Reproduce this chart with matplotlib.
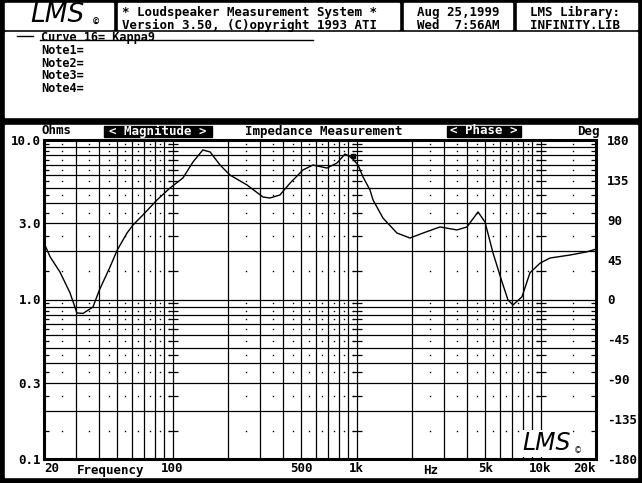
#!/bin/env python3
# coding: utf-8

import numpy as np
import matplotlib
matplotlib.use('Agg')
import matplotlib.pyplot as plt
from matplotlib.patches import Rectangle

# Impedance magnitude curve
freq = [20, 21.6, 24.4, 27.7, 30.2, 32.6, 36.9, 40, 45.7, 50, 56.5, 60.9, 69,
        82.3, 96.8, 113.8, 129, 146, 160, 181, 205, 254, 310, 338, 383, 435,
        511, 579, 690, 782, 865, 944, 1018, 1084, 1182, 1228, 1391, 1657,
        1950, 2296, 2838, 3512, 3980, 4570, 4986, 5510, 6168, 6650, 7078,
        7920, 8754, 9930, 11240, 14440, 17860, 20000]
ohms = [2.26, 1.85, 1.49, 1.10, 0.823, 0.818, 0.897, 1.147, 1.60, 2.04, 2.61,
        2.93, 3.39, 4.21, 5.0, 5.78, 7.28, 8.66, 8.41, 6.97, 6.03, 5.22, 4.39,
        4.33, 4.52, 5.37, 6.49, 6.97, 6.67, 7.17, 8.17, 7.71, 6.97, 5.86,
        4.86, 4.21, 3.24, 2.61, 2.43, 2.61, 2.85, 2.73, 2.85, 3.54, 3.06,
        1.96, 1.29, 0.993, 0.924, 1.04, 1.47, 1.69, 1.82, 1.90, 1.99, 2.07]

freq_ticks = [20, 100, 500, 1000, 5000, 10000, 20000]
freq_labels = ['20', '100', '500', '1k', '5k', '10k', '20k']
mag_ticks = [0.1, 0.3, 1.0, 3.0, 10.0]
mag_labels = ['0.1', '0.3', '1.0', '3.0', '10.0']
phase_ticks = [-180, -135, -90, -45, 0, 45, 90, 135, 180]

notes = ['Curve 16= Kappa9', 'Note1=', 'Note2=', 'Note3=', 'Note4=']

plt.rcParams['axes.unicode_minus'] = False
MONO = 'DejaVu Sans Mono'
FS = 9.0

fig = plt.figure(figsize=(6.42, 4.83), dpi=100)

# screen background, pixel coordinates
bg = fig.add_axes([0, 0, 1, 1])
bg.set_xlim(0, 642)
bg.set_ylim(483, 0)
bg.axis('off')
bg.add_patch(Rectangle((0, 0), 642, 483, color='black'))
for (x0, y0, x1, y1) in [(5, 3, 113, 29), (118, 3, 399, 29), (404, 3, 512, 29),
                         (517, 3, 637, 29), (5, 32, 637, 117),
                         (5, 125, 637, 477)]:
    bg.add_patch(Rectangle((x0, y0), x1 - x0, y1 - y0, color='white'))


def txt(x, y, s, **kw):
    kw.setdefault('ha', 'left')
    kw.setdefault('va', 'center')
    kw.setdefault('family', MONO)
    kw.setdefault('weight', 'bold')
    kw.setdefault('size', FS)
    bg.text(x, y, s, **kw)


# header
txt(30, 15, 'LMS', family='DejaVu Sans', style='italic', size=19,
    weight='normal')
txt(92, 22, '\u00a9', family='DejaVu Sans', size=6)
txt(122, 6, '* Loudspeaker Measurement System *\n'
    'Version 3.50, (C)opyright 1993 ATI', va='top', linespacing=0.98)
txt(417, 6, 'Aug 25,1999\nWed  7:56AM', va='top', linespacing=0.98)
txt(530, 6, 'LMS Library:\nINFINITY.LIB', va='top', linespacing=0.98)

# notes panel
bg.plot([17, 33], [36, 36], color='black', lw=1)
txt(41, 31, '\n'.join(notes), va='top', size=8.6, linespacing=0.98)
bg.plot([40, 313], [40, 40], color='black', lw=1)

# chart header row
txt(42, 131, 'Ohms')
bg.add_patch(Rectangle((104, 126), 108, 11, color='black'))
txt(158, 131, '< Magnitude >', ha='center', color='white')
txt(324, 131, 'Impedance Measurement', ha='center')
bg.add_patch(Rectangle((447, 126), 74, 11, color='black'))
txt(484, 131, '< Phase >', ha='center', color='white')
txt(577, 131, 'Deg')

# main chart
ax = fig.add_axes([44 / 642, (483 - 459) / 483, 552 / 642, 319 / 483])
ax.set_xscale('log')
ax.set_yscale('log')
ax.set_xlim(20, 20000)
ax.set_ylim(0.1, 10)

grid_f = [m * d for d in (10, 100, 1000) for m in range(2, 10)] + \
         [100, 1000, 10000, 20000]
grid_m = [m * d for d in (0.1, 1) for m in range(1, 10)]
ax.vlines(grid_f, 0.1, 10, color='black', lw=0.9)
ax.hlines(grid_m, 20, 20000, color='black', lw=0.9)

mid_f = [(m + 0.5) * d for d in (10, 100, 1000) for m in range(2, 10)] + [15000]
mid_m = [(m + 0.5) * d for d in (0.1, 1) for m in range(1, 10)]
mf, mm = np.meshgrid(mid_f, mid_m)
ax.plot(mf.ravel(), mm.ravel(), ls='none', marker='s', ms=1.0,
        color='black', mew=0)
for fx in (20, 100, 1000, 10000, 20000):
    ax.plot([fx] * len(mid_m), mid_m, ls='none', marker='_', ms=7,
            color='black', mew=0.9)

ax.plot(freq, ohms, color='black', lw=1.0)
ax.plot([957], [7.95], marker='s', ms=3, color='black')

for s in ax.spines.values():
    s.set_linewidth(2.2)

ax.set_xticks(freq_ticks)
ax.set_xticklabels(freq_labels)
ax.set_yticks(mag_ticks)
ax.set_yticklabels(mag_labels)
ax.minorticks_off()
ax.tick_params(length=0, pad=2)
for lab in ax.get_xticklabels() + ax.get_yticklabels():
    lab.set_family(MONO)
    lab.set_weight('bold')
    lab.set_size(FS)
xlabs = ax.get_xticklabels()
xlabs[0].set_ha('left')
xlabs[-1].set_ha('right')
ax.text(46, -0.016, 'Frequency', transform=ax.get_xaxis_transform(),
        ha='center', va='top', family=MONO, weight='bold', size=FS)
ax.text(2540, -0.016, 'Hz', transform=ax.get_xaxis_transform(),
        ha='center', va='top', family=MONO, weight='bold', size=FS)

ax.text(0.955, 0.012, 'LMS', transform=ax.transAxes, ha='right', va='bottom',
        family='DejaVu Sans', style='italic', size=17,
        bbox=dict(facecolor='white', edgecolor='none', pad=1))
ax.text(0.975, 0.012, '\u00a9', transform=ax.transAxes, ha='right',
        va='bottom', family='DejaVu Sans', size=6)

ph = ax.twinx()
ph.set_ylim(-180, 180)
ph.set_yticks(phase_ticks)
ph.tick_params(length=0, pad=8)
for lab in ph.get_yticklabels():
    lab.set_family(MONO)
    lab.set_weight('bold')
    lab.set_size(FS)
for s in ph.spines.values():
    s.set_visible(False)

fig.savefig('out.png', dpi=100, facecolor='black')
